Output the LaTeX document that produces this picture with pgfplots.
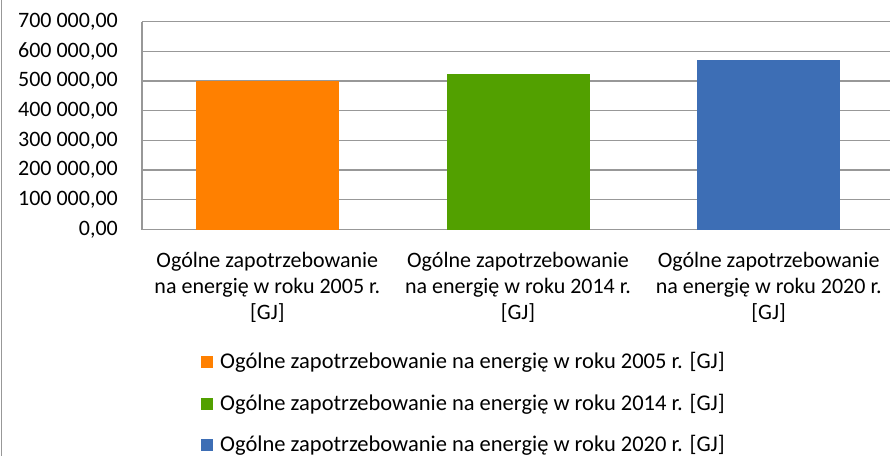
\documentclass[border=0pt]{standalone}
\usepackage{pgfplots}
\pgfplotsset{compat=1.18}
\usepackage{fontspec}
\setmainfont{Carlito}
\definecolor{cOrange}{RGB}{255,128,0}
\definecolor{cGreen}{RGB}{82,160,0}
\definecolor{cBlue}{RGB}{61,110,181}
\definecolor{cGrid}{RGB}{152,152,152}
\begin{document}
\fontsize{22}{26.4}\selectfont
\begin{tikzpicture}
\useasboundingbox (0pt,0pt) rectangle (890pt,-456pt);
\draw[cGrid, line width=1.5pt] (1.5pt,0pt) -- (1.5pt,-456pt);
\begin{axis}[
  at={(142pt,-229.5pt)}, anchor=south west,
  scale only axis, width=752pt, height=208pt,
  xmin=-0.5, xmax=2.5, ymin=0, ymax=700000,
  scaled y ticks=false,
  axis x line*=bottom, axis y line*=left,
  axis line style={cGrid, line width=1.2pt},
  every outer x axis line/.append style={-}, every outer y axis line/.append style={-},
  xtick={0,1,2},
  xticklabels={{Ogólne zapotrzebowanie\\na energię w roku 2005 r.\\{[GJ]}},
               {Ogólne zapotrzebowanie\\na energię w roku 2014 r.\\{[GJ]}},
               {Ogólne zapotrzebowanie\\na energię w roku 2020 r.\\{[GJ]}}},
  xticklabel style={align=center, inner sep=0pt, anchor=north, yshift=-23pt, font=\fontsize{22}{26}\selectfont},
  ytick={0,100000,200000,300000,400000,500000,600000,700000},
  yticklabels={{0,00},{100 000,00},{200 000,00},{300 000,00},{400 000,00},{500 000,00},{600 000,00},{700 000,00}},
  yticklabel style={inner sep=0pt, anchor=east, xshift=-24pt, font=\fontsize{22}{26}\selectfont},
  major tick length=0pt,
  ymajorgrids, grid style={cGrid, line width=1.2pt},
  ybar, bar width=143pt, bar shift=0pt,
  legend cell align=left,
  legend style={at={(axis description cs:0,0)}, anchor=north west, xshift=59pt, yshift=-121pt,
    draw=none, fill=none, font=\fontsize{22.5}{27}\selectfont, row sep=17.5pt, inner sep=0pt,
    /tikz/every odd column/.append style={column sep=5pt}},
  legend image code/.code={\fill[#1] (0pt,-6pt) rectangle (12pt,6pt);},
]
\addplot[fill=cOrange, draw=none] coordinates {(0,501000)};
\addplot[fill=cGreen, draw=none] coordinates {(1,523000)};
\addplot[fill=cBlue, draw=none] coordinates {(2,571000)};
\legend{Ogólne zapotrzebowanie na energię w roku 2005 r. [GJ],
        Ogólne zapotrzebowanie na energię w roku 2014 r. [GJ],
        Ogólne zapotrzebowanie na energię w roku 2020 r. [GJ]}
\end{axis}
\end{tikzpicture}
\end{document}
